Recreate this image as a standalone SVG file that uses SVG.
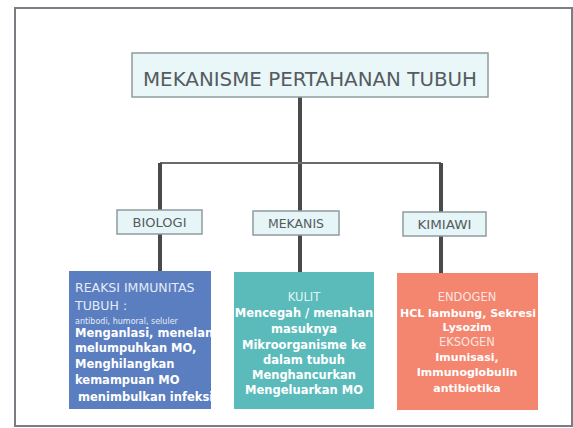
<svg xmlns="http://www.w3.org/2000/svg" width="573" height="428" viewBox="0 0 573 428">
<style>
.frame{fill:#ffffff;stroke:#7a7e84;stroke-width:2}
.title{fill:#eaf7f8;stroke:#8f9c9e;stroke-width:1.5}
.mid{fill:#e6f5f7;stroke:#8f9c9e;stroke-width:1.5}
.tt{font-family:"DejaVu Sans",Verdana,sans-serif;fill:#555b60}
.wt{font-family:"DejaVu Sans",Verdana,sans-serif;fill:#ffffff}
.lt{fill:#e4ecf8}
.b{font-weight:bold}
.vl{stroke:#4a4a4a;stroke-width:4;fill:none}
.hl{stroke:#6a6a6a;stroke-width:2;fill:none}
</style>
<defs>
<clipPath id="cb"><rect x="69" y="271" width="142" height="138"/></clipPath>
<clipPath id="ct"><rect x="234" y="272" width="140" height="137"/></clipPath>
<clipPath id="cs"><rect x="397" y="273" width="141" height="137"/></clipPath>
</defs>
<rect class="frame" x="15" y="8" width="557" height="418"/>
<g id="connectors">
<line class="vl" x1="300" y1="97" x2="300" y2="272"/>
<line class="hl" x1="160" y1="163" x2="441" y2="163"/>
<line class="vl" x1="160" y1="163" x2="160" y2="271"/>
<line class="vl" x1="441" y1="163" x2="441" y2="273"/>
</g>
<g id="title">
<rect class="title" x="132" y="53" width="356" height="44"/>
<text class="tt" x="310" y="86" font-size="19" text-anchor="middle" textLength="334" lengthAdjust="spacingAndGlyphs">MEKANISME PERTAHANAN TUBUH</text>
</g>
<g id="biologi">
<rect class="mid" x="117" y="210" width="85" height="24"/>
<text class="tt" x="159.500" y="226.500" font-size="12" text-anchor="middle" textLength="54" lengthAdjust="spacingAndGlyphs">BIOLOGI</text>
</g>
<g id="mekanis">
<rect class="mid" x="253" y="211" width="86" height="24"/>
<text class="tt" x="296" y="227.500" font-size="12" text-anchor="middle" textLength="56" lengthAdjust="spacingAndGlyphs">MEKANIS</text>
</g>
<g id="kimiawi">
<rect class="mid" x="403" y="212" width="83" height="24"/>
<text class="tt" x="444.500" y="228.500" font-size="12" text-anchor="middle" textLength="54" lengthAdjust="spacingAndGlyphs">KIMIAWI</text>
</g>
<g id="reaksi">
<rect x="69" y="271" width="142" height="138" fill="#5b7ec0"/>
<g clip-path="url(#cb)">
<text class="wt lt" x="75" y="292" font-size="12.500">REAKSI IMMUNITAS</text>
<text class="wt lt" x="75" y="310" font-size="12.500">TUBUH :</text>
<text class="wt lt" x="75" y="324" font-size="8">antibodi, humoral, seluler</text>
<text class="wt b" x="75" y="337" font-size="11.500">Menganlasi, menelan</text>
<text class="wt b" x="75" y="352" font-size="11.500">melumpuhkan MO,</text>
<text class="wt b" x="75" y="368" font-size="11.500">Menghilangkan</text>
<text class="wt b" x="75" y="384" font-size="11.500">kemampuan MO</text>
<text class="wt b" x="78" y="401" font-size="11.500">menimbulkan infeksi</text>
</g>
</g>
<g id="kulit">
<rect x="234" y="272" width="140" height="137" fill="#5bbbbb"/>
<g clip-path="url(#ct)" text-anchor="middle">
<text class="wt" x="304" y="301" font-size="11.500" fill-opacity="0.85">KULIT</text>
<text class="wt b" x="304" y="317" font-size="11.500">Mencegah / menahan</text>
<text class="wt b" x="304" y="333" font-size="11.500">masuknya</text>
<text class="wt b" x="304" y="349" font-size="11.500">Mikroorganisme ke</text>
<text class="wt b" x="304" y="364" font-size="11.500">dalam tubuh</text>
<text class="wt b" x="304" y="379" font-size="11.500">Menghancurkan</text>
<text class="wt b" x="304" y="394" font-size="11.500">Mengeluarkan MO</text>
</g>
</g>
<g id="endogen">
<rect x="397" y="273" width="141" height="137" fill="#f4856f"/>
<g clip-path="url(#cs)" text-anchor="middle">
<text class="wt" x="467" y="301" font-size="11.500" fill-opacity="0.8">ENDOGEN</text>
<text class="wt b" x="468" y="317" font-size="11">HCL lambung, Sekresi</text>
<text class="wt b" x="467" y="331" font-size="11">Lysozim</text>
<text class="wt" x="467" y="346" font-size="11.500" fill-opacity="0.8">EKSOGEN</text>
<text class="wt b" x="467" y="361" font-size="11">Imunisasi,</text>
<text class="wt b" x="467" y="376" font-size="11">Immunoglobulin</text>
<text class="wt b" x="467" y="392" font-size="11">antibiotika</text>
</g>
</g>
</svg>
